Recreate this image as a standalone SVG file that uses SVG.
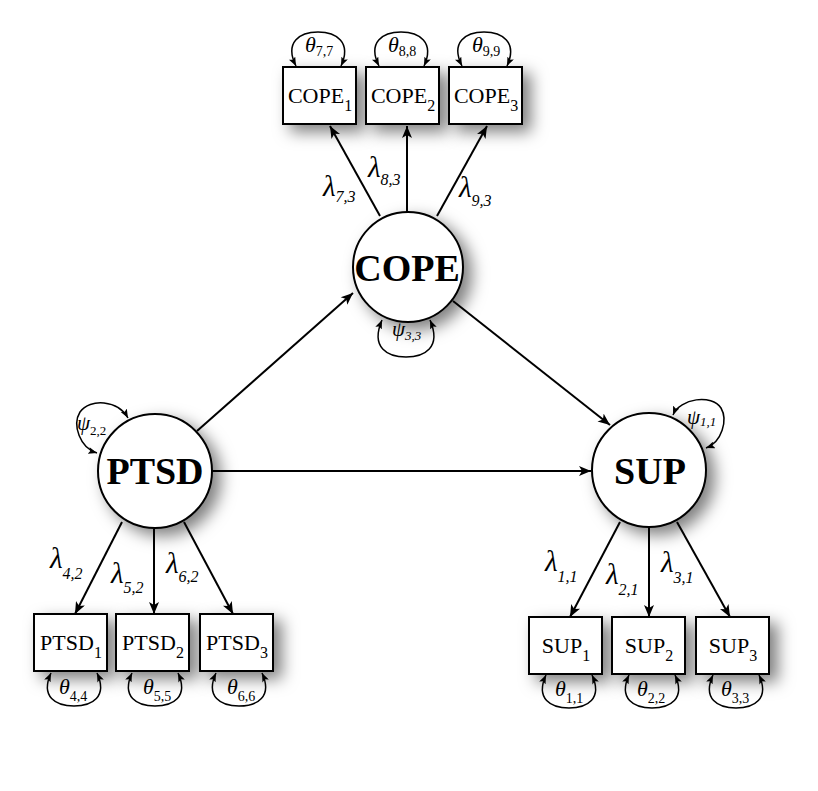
<svg xmlns="http://www.w3.org/2000/svg" width="818" height="791" viewBox="0 0 818 791">
<style>
.box{fill:#fff;stroke:#000;stroke-width:2;filter:url(#sh)}
.lat{fill:#fff;stroke:#000;stroke-width:2;filter:url(#sh)}
.ltxt{font-family:"Liberation Serif",serif;font-weight:bold;font-size:38px;text-anchor:middle}
.btxt{font-family:"Liberation Serif",serif;font-size:22px;text-anchor:middle}
.bsub{font-size:16px}
.arr{stroke:#000;stroke-width:2;fill:none;marker-end:url(#ah)}
.loop{stroke:#000;stroke-width:1.5;fill:none;marker-start:url(#sh2);marker-end:url(#sh2)}
.lam{font-family:"Liberation Serif",serif;font-style:italic;font-size:29px}
.lsub{font-size:16px}
.th{font-family:"Liberation Serif",serif;font-style:italic;font-size:22px}
.tsub{font-style:normal;font-size:14px}
.psi{font-family:"Liberation Serif",serif;font-style:italic;font-size:21px}
.psub{font-size:13px}
</style>
<defs>
<filter id="sh" x="-40%" y="-40%" width="190%" height="190%">
<feDropShadow dx="8" dy="7" stdDeviation="8" flood-color="#000" flood-opacity="0.5"/>
</filter>
<marker id="ah" viewBox="0 0 12 10" refX="12" refY="5" markerWidth="13" markerHeight="10" markerUnits="userSpaceOnUse" orient="auto">
<path d="M0,0 L12,5 L0,10 L3,5 Z" fill="#000"/>
</marker>
<marker id="sh2" viewBox="0 0 10 8" refX="10" refY="4" markerWidth="9" markerHeight="7" markerUnits="userSpaceOnUse" orient="auto-start-reverse">
<path d="M0,0 L10,4 L0,8 L2,4 Z" fill="#000"/>
</marker>
</defs>
<rect width="818" height="791" fill="#fff"/>

<g id="connectors">
<line class="arr" x1="380" y1="216" x2="330" y2="126"/>
<line class="arr" x1="407" y1="212" x2="407" y2="126"/>
<line class="arr" x1="437" y1="216" x2="487" y2="126"/>
<line class="arr" x1="197" y1="431" x2="353" y2="293"/>
<line class="arr" x1="453" y1="301" x2="610" y2="425"/>
<line class="arr" x1="212" y1="471" x2="591" y2="471"/>
<line class="arr" x1="122" y1="522" x2="75" y2="614"/>
<line class="arr" x1="154" y1="529" x2="154" y2="614"/>
<line class="arr" x1="184" y1="522" x2="233" y2="614"/>
<line class="arr" x1="620" y1="522" x2="570" y2="617"/>
<line class="arr" x1="649" y1="528" x2="649" y2="617"/>
<line class="arr" x1="677" y1="522" x2="730" y2="617"/>
</g>

<g id="loops">
<path class="loop" d="M296,66 C284,42 300,32 318,32 C336,32 352,42 341,66"/>
<path class="loop" d="M379,66 C367,42 383,32 401,32 C419,32 435,42 424,66"/>
<path class="loop" d="M462,66 C450,42 466,32 484,32 C502,32 518,42 507,66"/>
<path class="loop" d="M51,673 C40,697 56,706 74,706 C92,706 108,697 97,673"/>
<path class="loop" d="M132,673 C121,697 137,706 155,706 C173,706 189,697 178,673"/>
<path class="loop" d="M216,673 C205,697 221,706 239,706 C257,706 273,697 262,673"/>
<path class="loop" d="M546,675 C535,699 551,708 569,708 C587,708 603,699 592,675"/>
<path class="loop" d="M629,675 C618,699 634,708 652,708 C670,708 686,699 675,675"/>
<path class="loop" d="M713,675 C702,699 718,708 736,708 C754,708 770,699 759,675"/>
<path class="loop" d="M382,320 C370,348 388,357 406,357 C424,357 442,348 430,320"/>
<path class="loop" d="M128,418 C118,400 90,398 80,412 C72,425 80,448 97,453"/>
<path class="loop" d="M673,415 C680,398 712,394 721,408 C728,420 722,442 706,448"/>
</g>

<g id="COPE">
<circle class="lat" cx="408" cy="267" r="55"/>
<text class="ltxt" x="407" y="281">COPE</text>
</g>
<g id="PTSD">
<circle class="lat" cx="155" cy="471" r="57"/>
<text class="ltxt" x="155" y="484">PTSD</text>
</g>
<g id="SUP">
<circle class="lat" cx="649" cy="470" r="57"/>
<text class="ltxt" x="650" y="484">SUP</text>
</g>

<g id="COPE1"><rect class="box" x="283" y="67" width="73" height="57"/><text class="btxt" x="320" y="103">COPE<tspan class="bsub" dy="8">1</tspan></text></g>
<g id="COPE2"><rect class="box" x="366" y="67" width="73" height="57"/><text class="btxt" x="403" y="103">COPE<tspan class="bsub" dy="8">2</tspan></text></g>
<g id="COPE3"><rect class="box" x="449" y="67" width="73" height="57"/><text class="btxt" x="486" y="103">COPE<tspan class="bsub" dy="8">3</tspan></text></g>

<g id="PTSD1"><rect class="box" x="34" y="614" width="73" height="57"/><text class="btxt" x="71" y="650">PTSD<tspan class="bsub" dy="8">1</tspan></text></g>
<g id="PTSD2"><rect class="box" x="116" y="614" width="73" height="57"/><text class="btxt" x="153" y="650">PTSD<tspan class="bsub" dy="8">2</tspan></text></g>
<g id="PTSD3"><rect class="box" x="200" y="614" width="73" height="57"/><text class="btxt" x="237" y="650">PTSD<tspan class="bsub" dy="8">3</tspan></text></g>

<g id="SUP1"><rect class="box" x="529" y="617" width="73" height="57"/><text class="btxt" x="566" y="653">SUP<tspan class="bsub" dy="8">1</tspan></text></g>
<g id="SUP2"><rect class="box" x="612" y="617" width="73" height="57"/><text class="btxt" x="649" y="653">SUP<tspan class="bsub" dy="8">2</tspan></text></g>
<g id="SUP3"><rect class="box" x="696" y="617" width="73" height="57"/><text class="btxt" x="733" y="653">SUP<tspan class="bsub" dy="8">3</tspan></text></g>

<g id="labels">
<text class="lam" x="323" y="196">λ<tspan class="lsub" dy="6">7,3</tspan></text>
<text class="lam" x="368" y="177">λ<tspan class="lsub" dy="8">8,3</tspan></text>
<text class="lam" x="459" y="197">λ<tspan class="lsub" dy="9">9,3</tspan></text>
<text class="lam" x="50" y="568">λ<tspan class="lsub" dy="11">4,2</tspan></text>
<text class="lam" x="111" y="583">λ<tspan class="lsub" dy="10">5,2</tspan></text>
<text class="lam" x="166" y="573">λ<tspan class="lsub" dy="9">6,2</tspan></text>
<text class="lam" x="545" y="571">λ<tspan class="lsub" dy="11">1,1</tspan></text>
<text class="lam" x="606" y="584">λ<tspan class="lsub" dy="11">2,1</tspan></text>
<text class="lam" x="661" y="572">λ<tspan class="lsub" dy="11">3,1</tspan></text>

<text class="th" x="305" y="52">θ<tspan class="tsub" dy="4">7,7</tspan></text>
<text class="th" x="388" y="52">θ<tspan class="tsub" dy="4">8,8</tspan></text>
<text class="th" x="472" y="52">θ<tspan class="tsub" dy="4">9,9</tspan></text>
<text class="th" x="59" y="694">θ<tspan class="tsub" dy="7">4,4</tspan></text>
<text class="th" x="143" y="694">θ<tspan class="tsub" dy="7">5,5</tspan></text>
<text class="th" x="227" y="694">θ<tspan class="tsub" dy="7">6,6</tspan></text>
<text class="th" x="555" y="696">θ<tspan class="tsub" dy="7">1,1</tspan></text>
<text class="th" x="637" y="696">θ<tspan class="tsub" dy="7">2,2</tspan></text>
<text class="th" x="721" y="696">θ<tspan class="tsub" dy="7">3,3</tspan></text>

<text class="psi" x="392" y="336">ψ<tspan class="psub" dy="4">3,3</tspan></text>
<text class="psi" x="77" y="430">ψ<tspan class="psub" dy="5" font-style="normal">2,2</tspan></text>
<text class="psi" x="687" y="424">ψ<tspan class="psub" dy="2">1,1</tspan></text>
</g>
</svg>
